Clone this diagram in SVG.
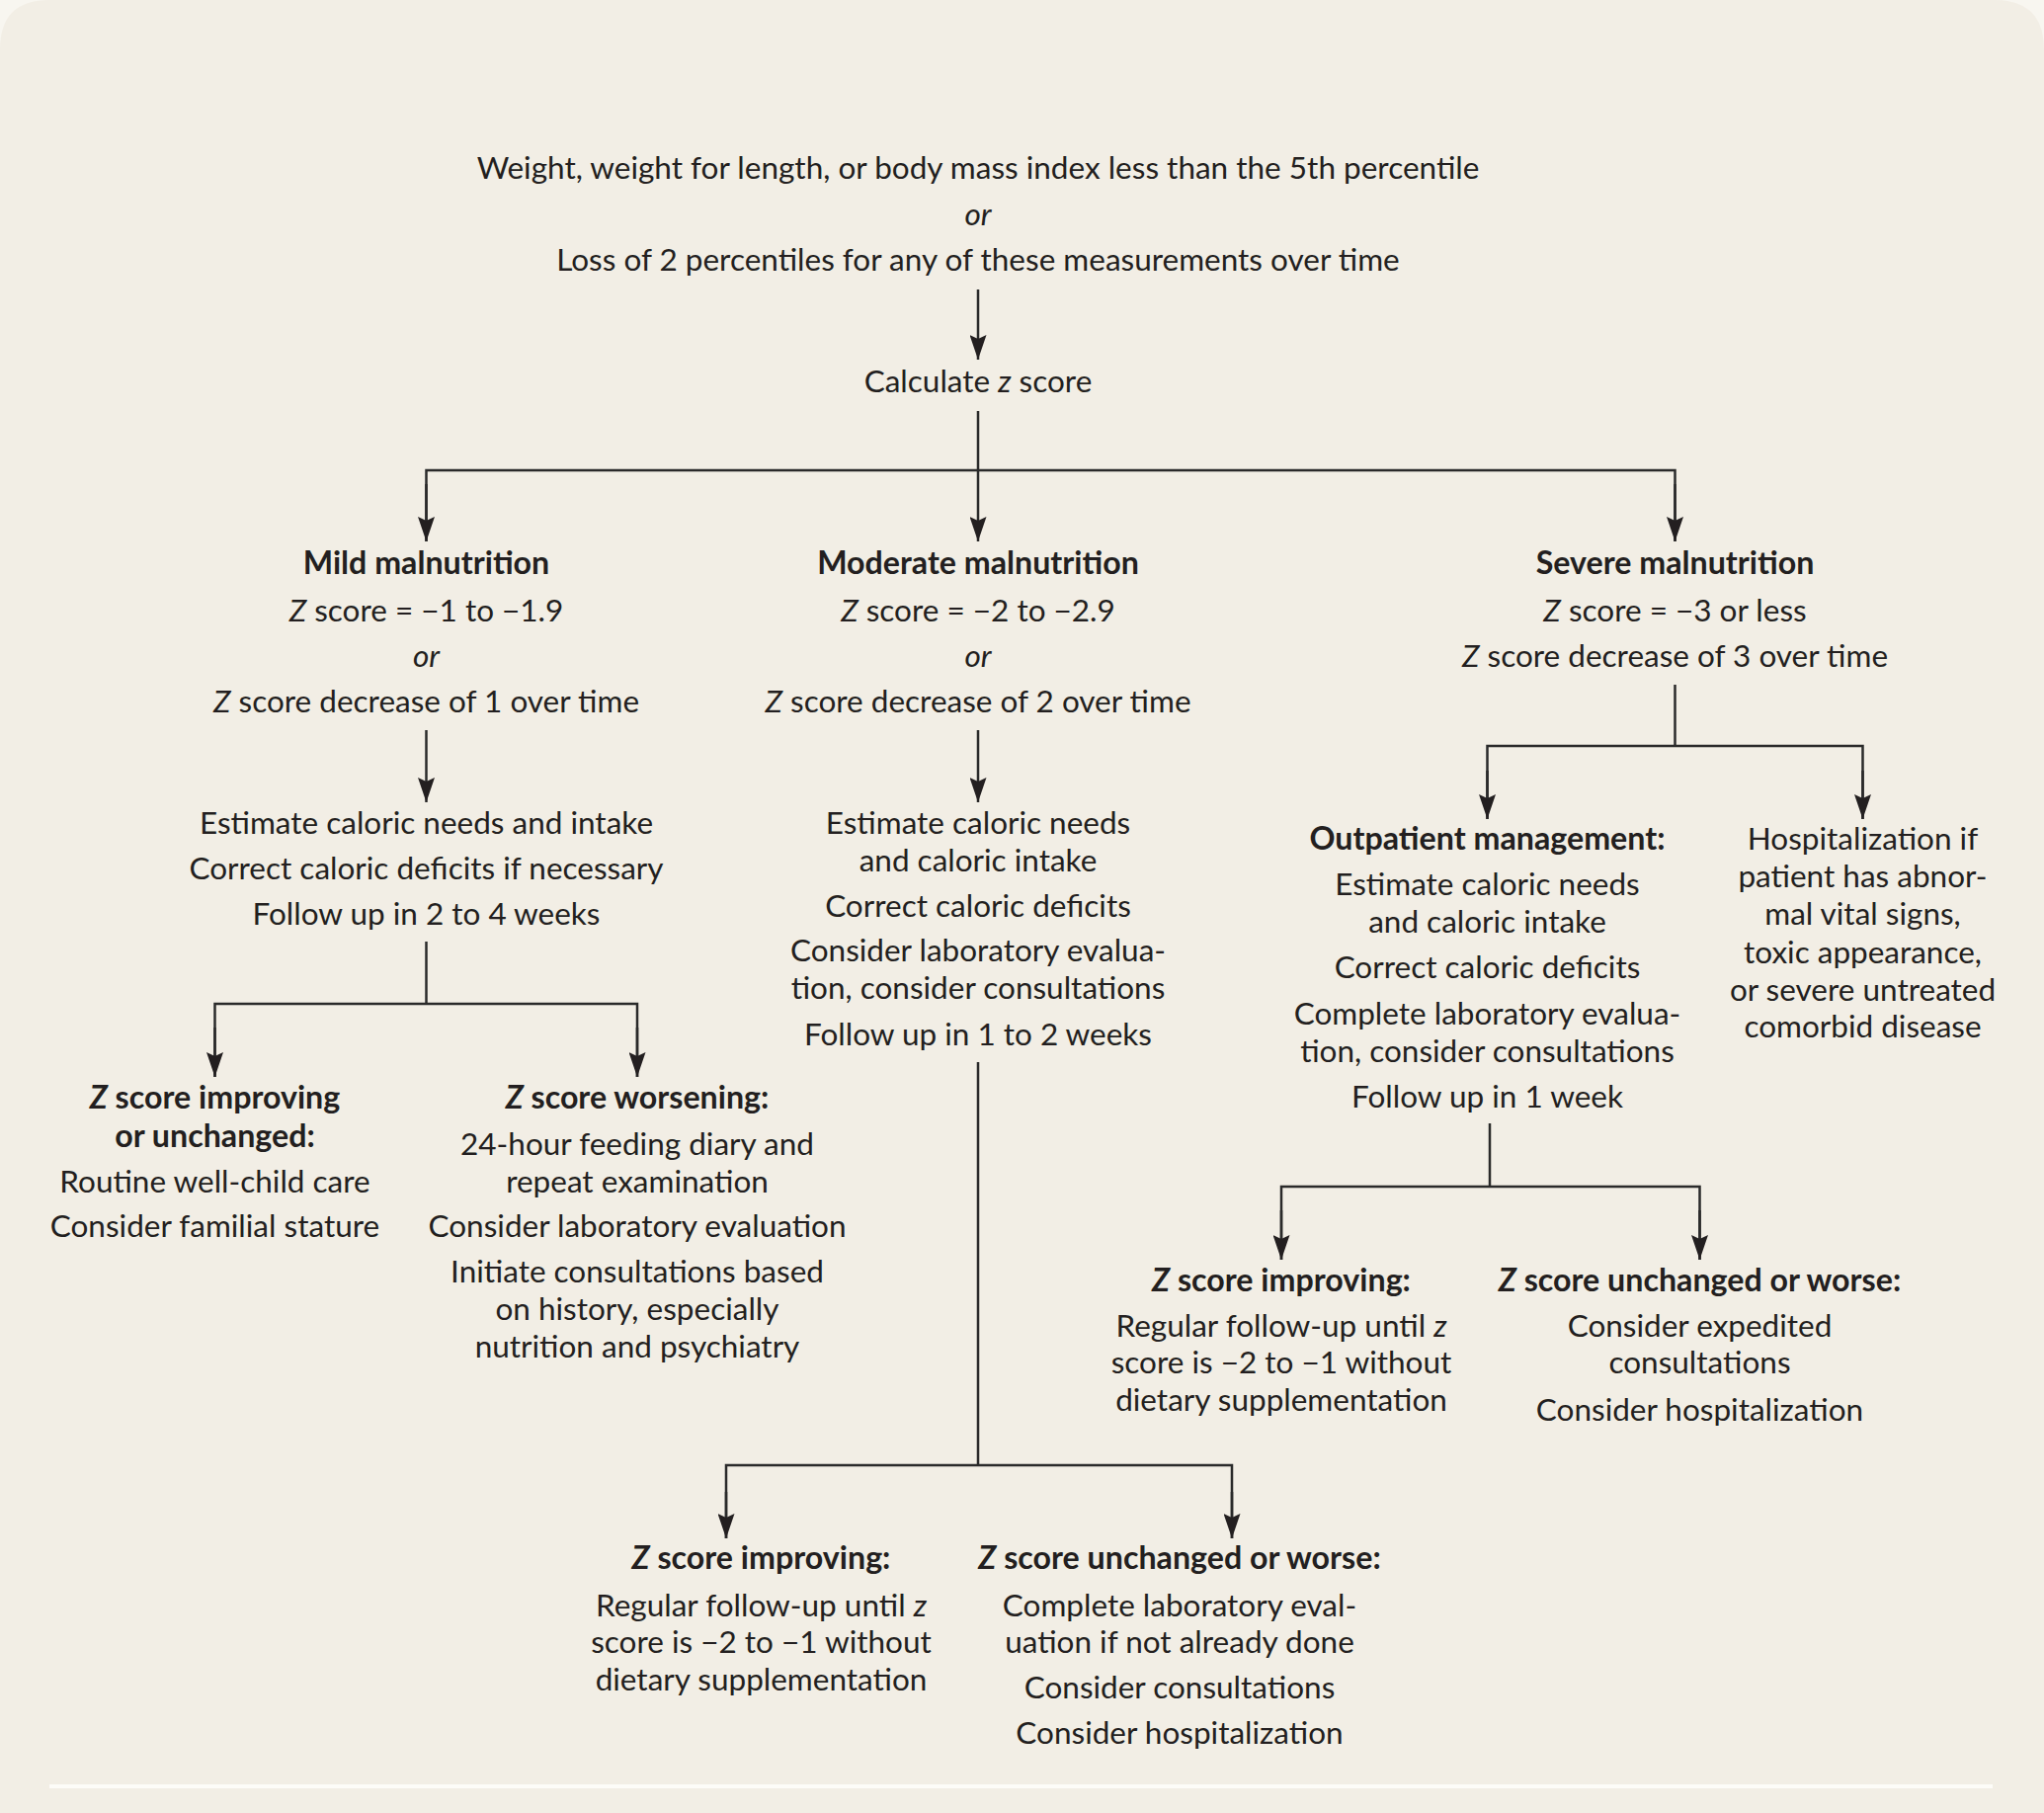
<svg xmlns="http://www.w3.org/2000/svg" width="2069" height="1835" viewBox="0 0 2069 1835">
<style>
text{font-family:Lato,"Open Sans","Liberation Sans",sans-serif;font-size:31.5px;fill:#231f20;text-anchor:middle}
.b{font-weight:700;font-size:32.2px}
.i{font-style:italic}
.c{fill:none;stroke:#2a2a2a;stroke-width:2.5}
</style>
<defs>
<marker id="ah" viewBox="0 0 25 17" refX="25" refY="8.5" markerWidth="25" markerHeight="17" markerUnits="userSpaceOnUse" orient="auto">
<path d="M0,0 L25,8.5 L0,17 L4,8.5 z" fill="#231f20"/>
</marker>
</defs>
<rect x="0" y="0" width="2069" height="1835" fill="#f8f6f0"/>
<path d="M0,50 Q0,0 50,0 L2019,0 Q2069,0 2069,50 L2069,1835 L0,1835 z" fill="#f2eee5"/>
<line x1="50" y1="1808" x2="2017" y2="1808" stroke="#fdfcf8" stroke-width="4"/>

<g id="connectors">
<line class="c" x1="990" y1="293" x2="990" y2="364" marker-end="url(#ah)"/>
<line class="c" x1="990" y1="416" x2="990" y2="548" marker-end="url(#ah)"/>
<polyline class="c" points="431.5,548 431.5,476 1695.5,476 1695.5,548" />
<line class="c" x1="431.5" y1="490" x2="431.5" y2="548" marker-end="url(#ah)"/>
<line class="c" x1="1695.5" y1="490" x2="1695.5" y2="548" marker-end="url(#ah)"/>
<line class="c" x1="431.5" y1="739" x2="431.5" y2="812" marker-end="url(#ah)"/>
<line class="c" x1="990" y1="739" x2="990" y2="812" marker-end="url(#ah)"/>
<line class="c" x1="431.5" y1="953" x2="431.5" y2="1016"/>
<polyline class="c" points="217.5,1090 217.5,1016 645,1016 645,1090"/>
<line class="c" x1="217.5" y1="1040" x2="217.5" y2="1090" marker-end="url(#ah)"/>
<line class="c" x1="645" y1="1040" x2="645" y2="1090" marker-end="url(#ah)"/>
<line class="c" x1="990" y1="1075" x2="990" y2="1483"/>
<polyline class="c" points="735,1557 735,1483 1247,1483 1247,1557"/>
<line class="c" x1="735" y1="1510" x2="735" y2="1557" marker-end="url(#ah)"/>
<line class="c" x1="1247" y1="1510" x2="1247" y2="1557" marker-end="url(#ah)"/>
<line class="c" x1="1695.5" y1="693" x2="1695.5" y2="755"/>
<polyline class="c" points="1505.5,829 1505.5,755 1885.5,755 1885.5,829"/>
<line class="c" x1="1505.5" y1="780" x2="1505.5" y2="829" marker-end="url(#ah)"/>
<line class="c" x1="1885.5" y1="780" x2="1885.5" y2="829" marker-end="url(#ah)"/>
<line class="c" x1="1508" y1="1137" x2="1508" y2="1201"/>
<polyline class="c" points="1297,1275 1297,1201 1720.5,1201 1720.5,1275"/>
<line class="c" x1="1297" y1="1225" x2="1297" y2="1275" marker-end="url(#ah)"/>
<line class="c" x1="1720.5" y1="1225" x2="1720.5" y2="1275" marker-end="url(#ah)"/>
</g>

<g id="start">
<text x="990" y="181">Weight, weight for length, or body mass index less than the 5th percentile</text>
<text x="990" y="228" class="i">or</text>
<text x="990" y="274">Loss of 2 percentiles for any of these measurements over time</text>
</g>
<g id="calc">
<text x="990" y="397">Calculate <tspan class="i">z</tspan> score</text>
</g>

<g id="mild">
<text x="431.5" y="581" class="b">Mild malnutrition</text>
<text x="431.5" y="629"><tspan class="i">Z</tspan> score = −1 to −1.9</text>
<text x="431.5" y="675" class="i">or</text>
<text x="431.5" y="721"><tspan class="i">Z</tspan> score decrease of 1 over time</text>
</g>
<g id="mild-actions">
<text x="431.5" y="844">Estimate caloric needs and intake</text>
<text x="431.5" y="890">Correct caloric deficits if necessary</text>
<text x="431.5" y="936">Follow up in 2 to 4 weeks</text>
</g>
<g id="mild-improving">
<text x="217.5" y="1122" class="b"><tspan class="i">Z</tspan> score improving</text>
<text x="217.5" y="1161" class="b">or unchanged:</text>
<text x="217.5" y="1207">Routine well-child care</text>
<text x="217.5" y="1252">Consider familial stature</text>
</g>
<g id="mild-worsening">
<text x="645" y="1122" class="b"><tspan class="i">Z</tspan> score worsening:</text>
<text x="645" y="1169">24-hour feeding diary and</text>
<text x="645" y="1207">repeat examination</text>
<text x="645" y="1252">Consider laboratory evaluation</text>
<text x="645" y="1298">Initiate consultations based</text>
<text x="645" y="1336">on history, especially</text>
<text x="645" y="1374">nutrition and psychiatry</text>
</g>

<g id="moderate">
<text x="990" y="581" class="b">Moderate malnutrition</text>
<text x="990" y="629"><tspan class="i">Z</tspan> score = −2 to −2.9</text>
<text x="990" y="675" class="i">or</text>
<text x="990" y="721"><tspan class="i">Z</tspan> score decrease of 2 over time</text>
</g>
<g id="moderate-actions">
<text x="990" y="844">Estimate caloric needs</text>
<text x="990" y="882">and caloric intake</text>
<text x="990" y="928">Correct caloric deficits</text>
<text x="990" y="973">Consider laboratory evalua-</text>
<text x="990" y="1011">tion, consider consultations</text>
<text x="990" y="1058">Follow up in 1 to 2 weeks</text>
</g>
<g id="moderate-improving">
<text x="770.5" y="1588" class="b"><tspan class="i">Z</tspan> score improving:</text>
<text x="770.5" y="1636">Regular follow-up until <tspan class="i">z</tspan></text>
<text x="770.5" y="1673">score is −2 to −1 without</text>
<text x="770.5" y="1711">dietary supplementation</text>
</g>
<g id="moderate-worse">
<text x="1194" y="1588" class="b"><tspan class="i">Z</tspan> score unchanged or worse:</text>
<text x="1194" y="1636">Complete laboratory eval-</text>
<text x="1194" y="1673">uation if not already done</text>
<text x="1194" y="1719">Consider consultations</text>
<text x="1194" y="1765">Consider hospitalization</text>
</g>

<g id="severe">
<text x="1695.5" y="581" class="b">Severe malnutrition</text>
<text x="1695.5" y="629"><tspan class="i">Z</tspan> score = −3 or less</text>
<text x="1695.5" y="675"><tspan class="i">Z</tspan> score decrease of 3 over time</text>
</g>
<g id="outpatient">
<text x="1505.5" y="860" class="b">Outpatient management:</text>
<text x="1505.5" y="906">Estimate caloric needs</text>
<text x="1505.5" y="944">and caloric intake</text>
<text x="1505.5" y="990">Correct caloric deficits</text>
<text x="1505.5" y="1037">Complete laboratory evalua-</text>
<text x="1505.5" y="1075">tion, consider consultations</text>
<text x="1505.5" y="1121">Follow up in 1 week</text>
</g>
<g id="hospitalization">
<text x="1885.5" y="860">Hospitalization if</text>
<text x="1885.5" y="898">patient has abnor-</text>
<text x="1885.5" y="936">mal vital signs,</text>
<text x="1885.5" y="975">toxic appearance,</text>
<text x="1885.5" y="1013">or severe untreated</text>
<text x="1885.5" y="1050">comorbid disease</text>
</g>
<g id="severe-improving">
<text x="1297" y="1307" class="b"><tspan class="i">Z</tspan> score improving:</text>
<text x="1297" y="1353">Regular follow-up until <tspan class="i">z</tspan></text>
<text x="1297" y="1390">score is −2 to −1 without</text>
<text x="1297" y="1428">dietary supplementation</text>
</g>
<g id="severe-worse">
<text x="1720.5" y="1307" class="b"><tspan class="i">Z</tspan> score unchanged or worse:</text>
<text x="1720.5" y="1353">Consider expedited</text>
<text x="1720.5" y="1390">consultations</text>
<text x="1720.5" y="1438">Consider hospitalization</text>
</g>
</svg>
